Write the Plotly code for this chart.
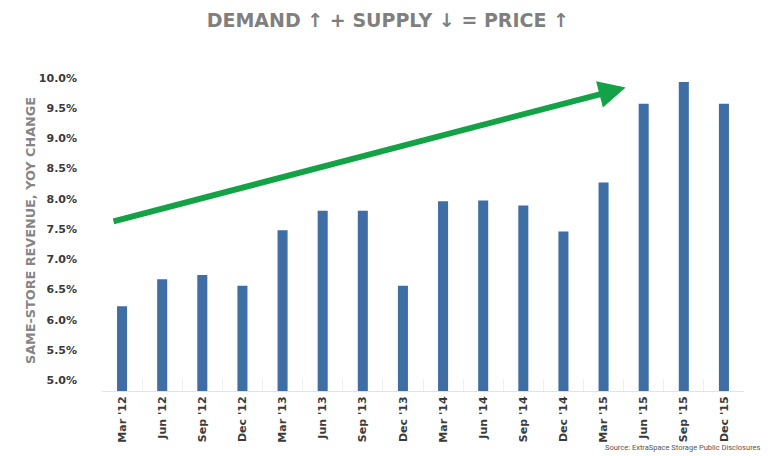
import plotly.graph_objects as go

quarters = ["Mar '12", "Jun '12", "Sep '12", "Dec '12", "Mar '13", "Jun '13", "Sep '13", "Dec '13",
            "Mar '14", "Jun '14", "Sep '14", "Dec '14", "Mar '15", "Jun '15", "Sep '15", "Dec '15"]
revenue_growth = [6.22, 6.67, 6.74, 6.56, 7.48, 7.80, 7.80, 6.56,
                  7.96, 7.97, 7.89, 7.46, 8.27, 9.57, 9.93, 9.57]
y_ticks = [5.0, 5.5, 6.0, 6.5, 7.0, 7.5, 8.0, 8.5, 9.0, 9.5, 10.0]
# trend arrow (category index, value)
arrow_start = (-0.25, 7.62)
arrow_end = (12.55, 9.84)

BAR = "#3E6EA4"
GREEN = "#13A245"
TICK_FONT = dict(family="DejaVu Sans", size=11, color="#3A3A3A", weight="bold")

fig = go.Figure()
fig.add_trace(go.Bar(x=quarters, y=revenue_growth, marker_color=BAR,
                     marker_line_width=0, width=0.25))

fig.add_annotation(x=arrow_end[0], y=arrow_end[1], ax=arrow_start[0], ay=arrow_start[1],
                   xref="x", yref="y", axref="x", ayref="y", text="", showarrow=True,
                   arrowhead=2, arrowsize=0.9, arrowwidth=6, arrowcolor=GREEN)

fig.add_annotation(text="Source: ExtraSpace Storage Public Disclosures", xref="paper", yref="paper",
                   x=1.03, y=-0.175, xanchor="right", yanchor="middle", showarrow=False,
                   font=dict(family="Roboto", size=7.5, color="#555555"))

fig.update_layout(
    width=768, height=456,
    margin=dict(l=102, r=24, t=70, b=65),
    paper_bgcolor="white", plot_bgcolor="white",
    showlegend=False,
    title=dict(text="DEMAND ↑ + SUPPLY ↓ = PRICE ↑", x=0.505, xanchor="center", y=0.955, yanchor="middle",
               font=dict(family="DejaVu Sans", size=19, color="#7F7F7F", weight="bold")),
    xaxis=dict(type="category", tickangle=-90, showgrid=False,
               showline=True, linecolor="#E3E3E3", linewidth=1,
               ticks="inside", tickson="boundaries", ticklen=12, tickcolor="#EFEFEF",
               tickfont=TICK_FONT),
    yaxis=dict(range=[4.82, 10.13], tickvals=y_ticks, ticktext=[f"{v:.1f}%" for v in y_ticks],
               showgrid=False, zeroline=False, showline=False, ticklabelstandoff=24,
               tickfont=TICK_FONT,
               title=dict(text="SAME-STORE REVENUE, YOY CHANGE", standoff=0,
                          font=dict(family="DejaVu Sans", size=12.8, color="#858585", weight="bold"))),
)

fig.write_html("out.html")
